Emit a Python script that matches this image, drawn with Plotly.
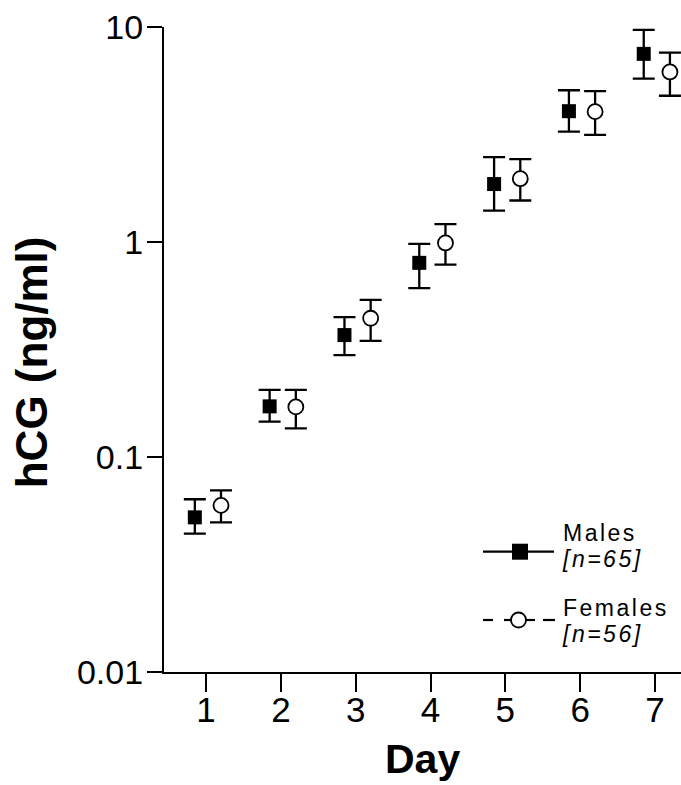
import plotly.graph_objects as go

# hCG concentration by day, geometric mean with error range
days = [1, 2, 3, 4, 5, 6, 7]

male_mean = [0.0524, 0.172, 0.369, 0.80, 1.86, 4.06, 7.5]
male_upper = [0.0636, 0.205, 0.447, 0.98, 2.48, 5.08, 9.7]
male_lower = [0.0440, 0.146, 0.298, 0.61, 1.40, 3.26, 5.75]

female_mean = [0.0596, 0.171, 0.442, 0.99, 1.97, 4.04, 6.18]
female_upper = [0.0700, 0.205, 0.538, 1.21, 2.43, 5.03, 7.6]
female_lower = [0.0497, 0.136, 0.347, 0.785, 1.56, 3.15, 4.79]

y_tick_vals = [0.01, 0.1, 1, 10]
y_tick_text = ["0.01", "0.1", "1", "10"]

legend_names = ["Males", "Females"]
legend_counts = ["[n=65]", "[n=56]"]

MALE_SHIFT = -0.15
FEMALE_SHIFT = 0.20

FONT = "Liberation Sans, Arial, Helvetica, sans-serif"

W, H = 681, 785
ML, MR, MT, MB = 164, 0, 27, 113
PW, PH = W - ML - MR, H - MT - MB


def px_x(x):
    return (x - ML) / PW


def px_y(y):
    return (H - MB - y) / PH


fig = go.Figure()

fig.add_trace(go.Scatter(
    x=[d + MALE_SHIFT for d in days],
    y=male_mean,
    mode="markers",
    name=legend_names[0],
    marker=dict(symbol="square", size=14, color="black"),
    error_y=dict(
        type="data", symmetric=False,
        array=[u - m for u, m in zip(male_upper, male_mean)],
        arrayminus=[m - l for m, l in zip(male_mean, male_lower)],
        color="black", thickness=2.3, width=11,
    ),
    showlegend=False,
))

fig.add_trace(go.Scatter(
    x=[d + FEMALE_SHIFT for d in days],
    y=female_mean,
    mode="markers",
    name=legend_names[1],
    marker=dict(symbol="circle", size=15, color="white",
                line=dict(color="black", width=1.8)),
    error_y=dict(
        type="data", symmetric=False,
        array=[u - m for u, m in zip(female_upper, female_mean)],
        arrayminus=[m - l for m, l in zip(female_mean, female_lower)],
        color="black", thickness=2.3, width=11,
    ),
    showlegend=False,
))

shapes = []
annotations = []

# legend key: solid line with filled square
y_m = 551.7
shapes.append(dict(type="line", xref="paper", yref="paper",
                   x0=px_x(483), x1=px_x(554), y0=px_y(y_m), y1=px_y(y_m),
                   line=dict(color="black", width=2.2)))
shapes.append(dict(type="rect", xref="paper", yref="paper",
                   x0=px_x(512), x1=px_x(528), y0=px_y(y_m + 8), y1=px_y(y_m - 8),
                   fillcolor="black", line=dict(width=0)))

# legend key: dashed line with open circle
y_f = 620
for a, b in [(483, 493), (504, 535), (543, 555)]:
    shapes.append(dict(type="line", xref="paper", yref="paper",
                       x0=px_x(a), x1=px_x(b), y0=px_y(y_f), y1=px_y(y_f),
                       line=dict(color="black", width=2.2)))
shapes.append(dict(type="circle", xref="paper", yref="paper",
                   x0=px_x(511), x1=px_x(526), y0=px_y(y_f + 7.5), y1=px_y(y_f - 7.5),
                   fillcolor="white", line=dict(color="black", width=1.8)))

# legend labels: the outer font size sets the line pitch,
# the inner span sets the glyph size
LEG_FS = 23
LEG_PITCH_FS = 20
span = f'<span style="font-size:{LEG_FS}px;letter-spacing:2.5px">'


def legend_label(name, count, baseline):
    annotations.append(dict(
        text=f"{span}{name}</span><br>{span}<i>{count}</i></span>",
        xref="paper", yref="paper",
        x=px_x(562), y=px_y(baseline - 0.905 * LEG_FS),
        xanchor="left", yanchor="top", align="left", showarrow=False,
        font=dict(family=FONT, size=LEG_PITCH_FS, color="black"),
        borderpad=0, borderwidth=0,
    ))


legend_label(legend_names[0], legend_counts[0], 540.7)
legend_label(legend_names[1], legend_counts[1], 615.5)

# axis titles
annotations.append(dict(
    text="<b>Day</b>", xref="paper", yref="paper",
    x=0.5, y=px_y(773 - 0.3465 * 41), xanchor="center", yanchor="middle",
    showarrow=False, font=dict(family=FONT, size=41, color="black"),
    borderpad=0, borderwidth=0,
))
annotations.append(dict(
    text="<b>hCG (ng/ml)</b>", xref="paper", yref="paper",
    x=px_x(47 - 0.3465 * 44), y=px_y(362.5), xanchor="center", yanchor="middle",
    textangle=-90, showarrow=False,
    font=dict(family=FONT, size=44, color="black"),
    borderpad=0, borderwidth=0,
))

fig.update_layout(
    width=W, height=H,
    margin=dict(l=ML, r=MR, t=MT, b=MB, pad=0),
    paper_bgcolor="white", plot_bgcolor="white",
    showlegend=False,
    shapes=shapes,
    annotations=annotations,
    font=dict(family=FONT, color="black"),
)

fig.update_xaxes(
    range=[0.438, 7.348],
    tickmode="array", tickvals=days, ticktext=[str(d) for d in days],
    showline=True, linecolor="black", linewidth=2.2,
    ticks="outside", ticklen=18, tickwidth=2.2, tickcolor="black",
    tickfont=dict(family=FONT, size=35, color="black"),
    ticklabelstandoff=-12,
    showgrid=False, zeroline=False,
)
fig.update_yaxes(
    type="log", range=[-2, 1],
    tickmode="array", tickvals=y_tick_vals, ticktext=y_tick_text,
    showline=True, linecolor="black", linewidth=2.2,
    ticks="outside", ticklen=15, tickwidth=2.2, tickcolor="black",
    tickfont=dict(family=FONT, size=34, color="black"),
    ticklabelstandoff=-3,
    showgrid=False, zeroline=False,
)

fig.write_html("out.html")
